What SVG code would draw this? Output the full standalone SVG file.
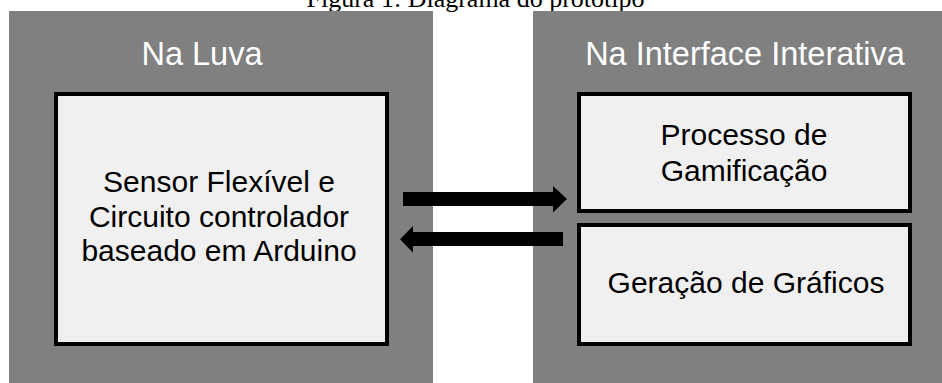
<svg xmlns="http://www.w3.org/2000/svg" width="942" height="383" viewBox="0 0 942 383">
<style>
.panel{fill:#808080}
.box{fill:#f0f0f0;stroke:#000;stroke-width:4}
.hdr{font-family:"Liberation Sans",Arial,sans-serif;font-size:32.5px;fill:#fff;text-anchor:middle}
.lbl{font-family:"Liberation Sans",Arial,sans-serif;font-size:30px;fill:#000;text-anchor:middle}
.cap{font-family:"Liberation Serif","Times New Roman",serif;font-size:26px;fill:#000;text-anchor:middle}
.arr{fill:#000}
</style>
<rect width="942" height="383" fill="#fff"/>
<text class="cap" x="475.5" y="6.5">Figura 1: Diagrama do protótipo</text>
<g id="panel-luva">
<rect class="panel" x="9" y="11" width="424" height="372"/>
<text class="hdr" x="202" y="65">Na Luva</text>
</g>
<g id="panel-interface">
<rect class="panel" x="533" y="11" width="409" height="372"/>
<text class="hdr" x="745" y="65">Na Interface Interativa</text>
</g>
<g id="node-sensor">
<rect class="box" x="56" y="94" width="331" height="250"/>
<text class="lbl" x="219" y="192">Sensor Flexível e</text>
<text class="lbl" x="219" y="226.5">Circuito controlador</text>
<text class="lbl" x="219" y="261">baseado em Arduino</text>
</g>
<g id="node-gamificacao">
<rect class="box" x="579" y="94" width="331" height="117"/>
<text class="lbl" x="744" y="145">Processo de</text>
<text class="lbl" x="744" y="181">Gamificação</text>
</g>
<g id="node-graficos">
<rect class="box" x="579" y="225" width="331" height="119"/>
<text class="lbl" x="746" y="293">Geração de Gráficos</text>
</g>
<g id="connectors">
<polygon class="arr" points="403,192 553,192 553,186 567,199 553,212.5 553,206 403,206"/>
<polygon class="arr" points="563,232 413,232 413,226 400,239.3 413,252.7 413,246 563,246"/>
</g>
</svg>
